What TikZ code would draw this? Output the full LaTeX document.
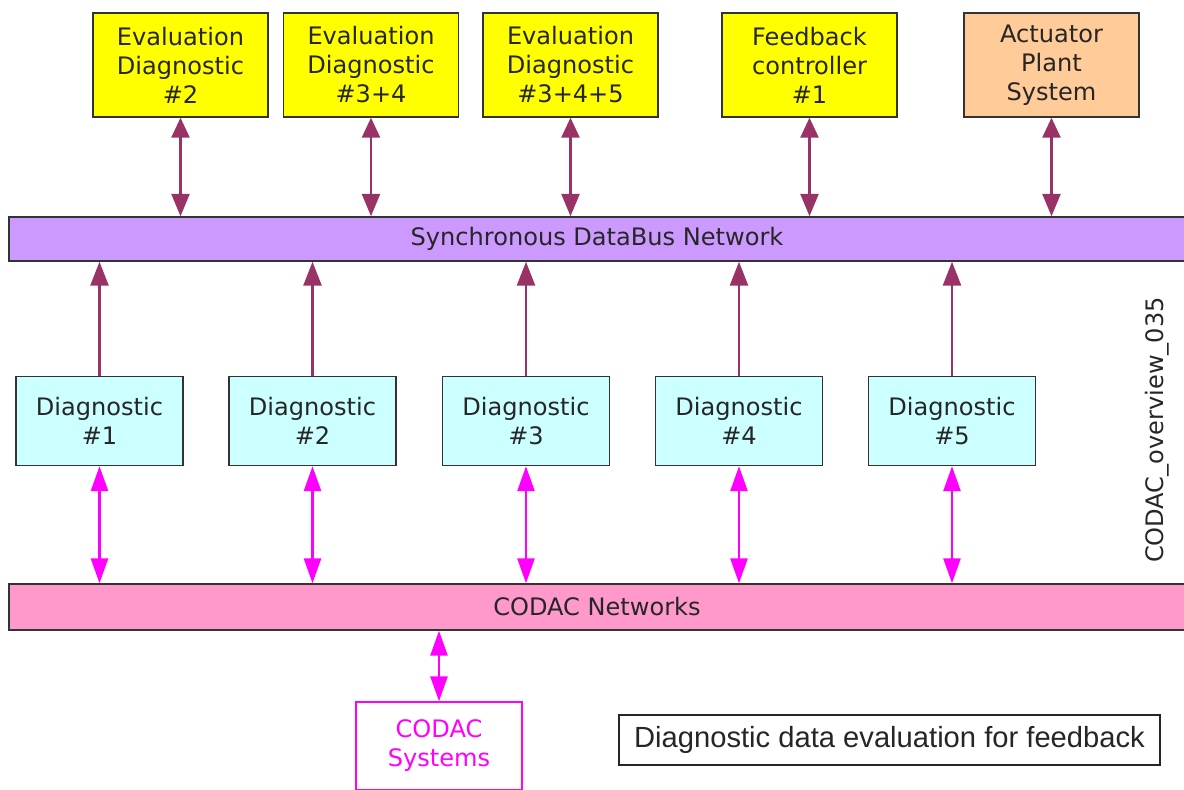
\documentclass[tikz,border=0pt]{standalone}
\usepackage{fontspec}
\setmainfont{DejaVu Sans}
\newfontfamily\captionfont{Liberation Sans}
\usetikzlibrary{arrows.meta}

\definecolor{evalyellow}{HTML}{FFFF00}
\definecolor{plantorange}{HTML}{FFCC99}
\definecolor{buspurple}{HTML}{CC99FF}
\definecolor{diagcyan}{HTML}{CCFFFF}
\definecolor{netpink}{HTML}{FF99CC}
\definecolor{codacmag}{HTML}{FF00FF}
\definecolor{plum}{HTML}{993366}
\definecolor{boxline}{HTML}{333333}

\begin{document}
\begin{tikzpicture}[x=0.02cm,y=-0.02cm,line width=1.5pt,
  box/.style={draw=boxline,line width=0.8pt,align=center,inner sep=0pt,text=black!85,
    font=\fontsize{13.7}{16.5}\selectfont},
  topbox/.style={box,fill=evalyellow,minimum width=3.5cm,minimum height=2.08cm},
  diagbox/.style={box,fill=diagcyan,minimum width=3.34cm,minimum height=1.78cm},
  bar/.style={box,minimum width=23.52cm},
  busup/.style={plum,-{Triangle[length=0.48cm,width=0.36cm]}},
  busboth/.style={plum,{Triangle[length=0.4cm,width=0.36cm]}-{Triangle[length=0.45cm,width=0.36cm]}},
  netboth/.style={codacmag,{Triangle[length=0.5cm,width=0.34cm]}-{Triangle[length=0.5cm,width=0.34cm]}}]
  \useasboundingbox (0,0) rectangle (1184,790);
  \clip (0,0) rectangle (1184,790);
  % evaluation / feedback / plant
  \node[topbox] (ev2) at (180.5,65) {Evaluation\\Diagnostic\\\#2};
  \node[topbox] (ev34) at (371,65) {Evaluation\\Diagnostic\\\#3+4};
  \node[topbox] (ev345) at (570.5,65) {Evaluation\\Diagnostic\\\#3+4+5};
  \node[topbox] (fb1) at (809.5,65) {Feedback\\controller\\\#1};
  \node[topbox,fill=plantorange] (aps) at (1051.5,65) {Actuator\\Plant\\System};
  % networks
  \node[bar,fill=buspurple,minimum height=0.88cm] (sync) at (597,239) {Synchronous DataBus Network};
  \node[bar,fill=netpink,minimum height=0.92cm] (net) at (597,607) {CODAC Networks};
  \foreach \t in {ev2,ev34,ev345,fb1,aps} {\draw[busboth] (\t.south)--(\t.south |- sync.north);}
  % diagnostics
  \foreach \i/\x in {1/99.5,2/312.5,3/526,4/739,5/952} {
    \node[diagbox] (d\i) at (\x,421) {Diagnostic\\\#\i};
    \draw[busup] (d\i.north)--(d\i.north |- sync.south);
    \draw[netboth] (d\i.south)--(d\i.south |- net.north);
  }
  \node[box,draw=codacmag,text=codacmag,minimum width=3.32cm,minimum height=1.76cm] (codsys) at (439,746) {CODAC\\Systems};
  \draw[netboth] (codsys.north)--(codsys.north |- net.south);
  \node[box,rotate=90] (tag) at (1157,430) [draw=none] {CODAC\_overview\_035};
  \node[draw=black!85,line width=0.8pt,minimum width=10.82cm,minimum height=1cm,
    font=\captionfont\fontsize{16.6}{20}\selectfont,text=black!85] (caption) at (889.5,740) {Diagnostic data evaluation for feedback};
\end{tikzpicture}
\end{document}
